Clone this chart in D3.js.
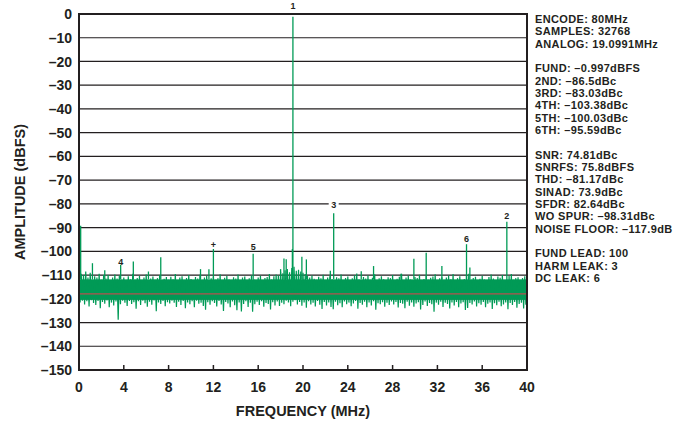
<!DOCTYPE html>
<html>
<head>
<meta charset="utf-8">
<script src="https://cdn.jsdelivr.net/npm/d3@7"></script>
<style>
  body { margin: 0; background: #fff; }
  text { font-family: "Liberation Sans", Arial, Helvetica, sans-serif; font-weight: bold; fill: #231f20; }
</style>
</head>
<body>
<svg id="chart" width="693" height="424"></svg>
<script>
// axis ticks
const yTicks = [0, -10, -20, -30, -40, -50, -60, -70, -80, -90, -100, -110, -120, -130, -140, -150];
const xTicks = [0, 4, 8, 12, 16, 20, 24, 28, 32, 36, 40];

// noise floor, every 0.2 MHz (peak / trough pairs)
const freqStep = 0.2;
const noiseTop = [
  -108, -109.5, -110, -108.5, -111, -109, -112, -110.5, -111, -109.5, -112, -110, -111.5, -110, -112.5, -111, -109.8, -111.5, -110.2, -112,
  -111, -112.5, -110.5, -111.8, -109.5, -112, -111.2, -110.4, -112.6, -111, -109.8, -112.2, -111.5, -110.6, -112, -111.3, -110, -112.4, -111.6, -110.8,
  -112, -110.7, -111.8, -109.6, -112.3, -111, -110.5, -112.8, -111.2, -110, -111.7, -112.4, -110.8, -111.5, -109.9, -112.1, -111, -110.3, -112.5, -111.4,
  -110.6, -112, -111.3, -109.7, -112.6, -111.1, -110.4, -111.9, -112.3, -110.9, -111.5, -109.8, -112.2, -111, -110.6, -112.7, -111.4, -110.2, -111.8, -112.1,
  -111, -110.3, -112.4, -111.2, -110.8, -109.6, -111.9, -110.5, -109.8, -110.2, -108.6, -109.2, -108, -107.5, -108.8, -107, -106.5, -108.2, -107.8, -108.5,
  -109, -109.6, -110.4, -111, -110.2, -111.6, -112, -110.7, -111.3, -109.9, -112.4, -111, -110.5, -111.8, -112.2, -110.9, -111.4, -109.8, -112.1, -111.2,
  -110.6, -112.5, -111.3, -110.1, -109.4, -111.9, -112.3, -110.8, -111.5, -110.2, -112, -111.1, -109.7, -112.6, -111.4, -110.5, -111.8, -112.2, -110.9, -111.3,
  -110, -112.1, -111.6, -110.7, -109.5, -112.4, -111, -110.3, -111.9, -112.5, -110.8, -111.2, -109.9, -112.3, -111.7, -110.4, -112, -111.1, -110.6, -109.7,
  -112.2, -111.4, -110.9, -112.6, -111, -110.2, -111.8, -109.6, -112.1, -111.3, -110.5, -112.4, -111.7, -110.1, -109.5, -112, -111.2, -110.7, -112.5, -111.6,
  -110.3, -111.9, -112.2, -110.8, -109.8, -111.5, -112.4, -110.6, -111.1, -110, -112.3, -111.7, -110.4, -109.6, -112, -111.3, -110.9, -112.5, -111.2, -110.5
];
const noiseBottom = [
  -121.5, -120.8, -122.4, -121, -123.2, -120.6, -121.8, -122.6, -120.9, -124, -121.3, -122.1, -120.7, -123.5, -121.6, -122.8, -121.1, -128.8, -122.3, -120.8,
  -121.7, -123, -120.9, -122.2, -121.4, -124.2, -121, -122.6, -120.8, -121.9, -123.3, -121.2, -122.5, -120.7, -125.2, -121.6, -122.2, -120.9, -123.1, -121.4,
  -122, -120.8, -121.7, -123.4, -121.2, -122.6, -120.9, -124, -121.5, -122.3, -121, -123.6, -120.8, -122.1, -121.7, -123, -124.6, -121.4, -122.5, -121,
  -121.8, -123.2, -120.9, -122.4, -125.1, -121.3, -122, -123.5, -121.1, -122.7, -124.8, -121.5, -125.3, -122.2, -121, -123.4, -121.7, -125.5, -122.3, -121.2,
  -122.6, -121, -123.3, -121.8, -122.2, -124.5, -121.4, -122.8, -121.1, -123, -121.7, -122.3, -120.8, -121.5, -123.1, -121.2, -120.6, -122.4, -121.3, -122.9,
  -121.5, -123.8, -121, -122.4, -121.7, -123.2, -120.9, -122.5, -124.3, -121.3, -122.8, -121.6, -123.4, -124.4, -121.2, -122.7, -121.9, -123.5, -121.1, -122.3,
  -121.6, -123.1, -122, -120.9, -124.2, -121.8, -122.5, -121.2, -123.6, -121.5, -122.8, -121, -124.6, -121.9, -122.3, -121.4, -123.3, -121.7, -122.6, -121.1,
  -122.4, -121.3, -123.7, -121.8, -122.1, -124, -121.2, -122.9, -121.5, -123.3, -122, -121.4, -124.5, -122.6, -121.1, -123, -121.8, -122.3, -125.4, -121.6,
  -122.5, -121.2, -123.4, -121.7, -122.2, -124.1, -121.5, -122.8, -121.3, -123.6, -122, -121.4, -124.7, -123.9, -121.8, -122.4, -121.1, -123.2, -121.9, -122.5,
  -121.3, -123.5, -122.1, -121.6, -124.3, -121.9, -122.7, -121.2, -123.1, -122.4, -121.5, -124.4, -121.8, -122.6, -121.3, -123.8, -122.2, -121.7, -124.1, -122.5
];
const coreBand = [-111.8, -120.4];
const noiseFloor = -117.9;

// spurs standing above the floor
const spurFreq  = [0.15, 1.2, 2.3, 3.72, 4.85, 6.2, 7.3, 10.85, 11.6, 12.0, 15.55, 18.0, 18.3, 18.5, 19.05, 19.1, 19.9, 20.3, 22.44, 22.74, 25.2, 26.3, 28.75, 29.9, 31.0, 32.4, 34.6, 34.9, 38.2];
const spurLevel = [-89.2, -105, -108, -105.4, -104.3, -108.5, -102.5, -107.5, -107.5, -99, -101, -107.5, -103, -103.3, -99, -1.2, -102.3, -103.4, -108.2, -84, -108.4, -106.2, -109.4, -103.1, -100.6, -106.2, -97, -106.8, -87.5];

// harmonic markers
const markerText  = ["1", "2", "3", "4", "5", "6", "+"];
const markerFreq  = [19.1, 38.2, 22.74, 3.72, 15.55, 34.6, 12.0];
const markerLevel = [2.0, -86.4, -81.9, -105.6, -99.5, -96.0, -98.8];

const infoLines = [
  "ENCODE: 80MHz", "SAMPLES: 32768", "ANALOG: 19.0991MHz", "",
  "FUND: \u20130.997dBFS", "2ND: \u201386.5dBc", "3RD: \u201383.03dBc", "4TH: \u2013103.38dBc", "5TH: \u2013100.03dBc", "6TH: \u201395.59dBc", "",
  "SNR: 74.81dBc", "SNRFS: 75.8dBFS", "THD: \u201381.17dBc", "SINAD: 73.9dBc", "SFDR: 82.64dBc", "WO SPUR: \u201398.31dBc", "NOISE FLOOR: \u2013117.9dB", "",
  "FUND LEAD: 100", "HARM LEAK: 3", "DC LEAK: 6"
];

const green = "#009a56";
const ink = "#231f20";

const margin = {left: 79, top: 14, right: 166, bottom: 54};
const W = 693, H = 424;
const pw = W - margin.left - margin.right;
const ph = H - margin.top - margin.bottom;

const svg = d3.select("#chart");
const g = svg.append("g").attr("transform", `translate(${margin.left},${margin.top})`);

const x = d3.scaleLinear().domain([0, 40]).range([0, pw]);
const y = d3.scaleLinear().domain([0, -150]).range([0, ph]);

const dash = d => d < 0 ? "\u2013" + Math.abs(d) : String(d);

svg.append("defs").append("clipPath").attr("id", "plot")
  .append("rect").attr("width", pw).attr("height", ph);

// horizontal grid
g.selectAll(".grid").data(yTicks.slice(1, -1)).enter().append("line")
  .attr("x1", 0).attr("x2", pw)
  .attr("y1", d => y(d)).attr("y2", d => y(d))
  .attr("stroke", ink).attr("stroke-width", 1.2);

const plot = g.append("g").attr("clip-path", "url(#plot)");

// dense core of the noise
plot.append("rect")
  .attr("x", 0).attr("width", pw)
  .attr("y", y(coreBand[0])).attr("height", y(coreBand[1]) - y(coreBand[0]))
  .attr("fill", green);

// needle trace
const pts = [];
noiseTop.forEach((v, i) => {
  pts.push([i * freqStep, v]);
  pts.push([i * freqStep + freqStep / 2, noiseBottom[i]]);
});
plot.append("path")
  .attr("d", d3.line().x(d => x(d[0])).y(d => y(d[1]))(pts))
  .attr("fill", "none").attr("stroke", green).attr("stroke-width", 1.2);

// spurs
plot.selectAll(".spur").data(spurFreq).enter().append("line")
  .attr("x1", d => x(d)).attr("x2", d => x(d))
  .attr("y1", y(coreBand[0])).attr("y2", (d, i) => y(spurLevel[i]))
  .attr("stroke", green).attr("stroke-width", 1.3);

// noise floor line
plot.append("line")
  .attr("x1", 0).attr("x2", pw)
  .attr("y1", y(noiseFloor)).attr("y2", y(noiseFloor))
  .attr("stroke", "#b5514f").attr("stroke-width", 1.3);

// frame
g.append("rect").attr("width", pw).attr("height", ph)
  .attr("fill", "none").attr("stroke", ink).attr("stroke-width", 2);

// inward x ticks
g.selectAll(".xt").data(xTicks.slice(1, -1)).enter().append("line")
  .attr("x1", d => x(d)).attr("x2", d => x(d))
  .attr("y1", ph).attr("y2", ph - 5)
  .attr("stroke", ink).attr("stroke-width", 1.5);

// tick labels
g.selectAll(".yl").data(yTicks).enter().append("text")
  .attr("x", -7).attr("y", d => y(d)).attr("dy", "0.36em")
  .attr("text-anchor", "end").style("font-size", "14px")
  .text(dash);

g.selectAll(".xl").data(xTicks).enter().append("text")
  .attr("x", d => x(d)).attr("y", ph + 22)
  .attr("text-anchor", "middle").style("font-size", "14px")
  .text(d => d);

// axis titles
g.append("text")
  .attr("x", pw / 2).attr("y", ph + 46)
  .attr("text-anchor", "middle").style("font-size", "14.5px")
  .text("FREQUENCY (MHz)");

svg.append("text")
  .attr("transform", `translate(25,${margin.top + ph / 2}) rotate(-90)`)
  .attr("text-anchor", "middle").style("font-size", "14.5px")
  .text("AMPLITUDE (dBFS)");

// harmonic markers
const mk = g.selectAll(".mk").data(markerText).enter().append("g")
  .attr("transform", (d, i) => `translate(${x(markerFreq[i])},${y(markerLevel[i])})`);
mk.append("rect")
  .attr("x", -5).attr("y", -7).attr("width", 10).attr("height", 7)
  .attr("fill", (d, i) => i === 0 ? "none" : "#fff");
mk.append("text")
  .attr("text-anchor", "middle").style("font-size", "9px")
  .text(d => d);

// measurement block
svg.append("g").selectAll("text").data(infoLines).enter().append("text")
  .attr("x", 535).attr("y", (d, i) => 22.8 + i * 12.35)
  .style("font-size", "11px").style("letter-spacing", "0.35px")
  .text(d => d);
</script>
</body>
</html>
